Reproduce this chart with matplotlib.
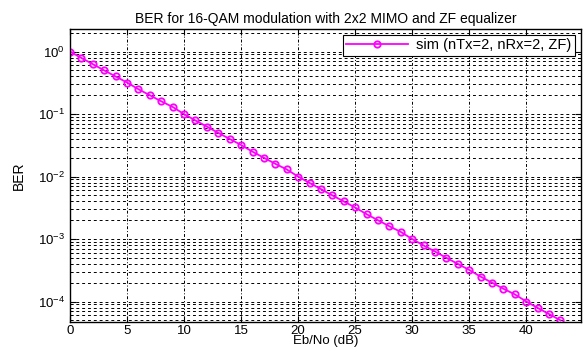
import matplotlib
matplotlib.use("Agg")
import matplotlib.pyplot as plt
from matplotlib.ticker import LogLocator, NullFormatter
import numpy as np

plt.rcParams['font.family'] = ['Liberation Sans', 'DejaVu Sans']

# Eb/No values (dB) and simulated BER
eb_no_db = list(range(0, 44))
ber_sim = [1.0, 0.79, 0.63, 0.50, 0.40, 0.32, 0.25, 0.20, 0.16, 0.13,
           0.10, 0.079, 0.063, 0.050, 0.040, 0.032, 0.025, 0.020, 0.016, 0.013,
           1.0e-2, 7.9e-3, 6.3e-3, 5.0e-3, 4.0e-3, 3.2e-3, 2.5e-3, 2.0e-3, 1.6e-3, 1.3e-3,
           1.0e-3, 7.9e-4, 6.3e-4, 5.0e-4, 4.0e-4, 3.2e-4, 2.5e-4, 2.0e-4, 1.6e-4, 1.3e-4,
           1.0e-4, 7.9e-5, 6.3e-5, 5.0e-5]
x_ticks = [0, 5, 10, 15, 20, 25, 30, 35, 40]
legend_label = 'sim (nTx=2, nRx=2, ZF)'

fig = plt.figure(figsize=(5.84, 3.52), dpi=100)
ax = fig.add_axes([0.1199, 0.0852, 0.875, 0.8324])

ax.semilogy(eb_no_db, ber_sim, '-o', color='#ff00ff', lw=1.3, ms=4.6,
            mfc='none', mew=1.3, label=legend_label)

ax.set_xlim(0, 44.8)
ax.set_ylim(4.7e-5, 2.3)
ax.set_xticks(x_ticks)
ax.yaxis.set_major_locator(LogLocator(base=10, numticks=10))
ax.yaxis.set_minor_locator(LogLocator(base=10, subs=np.arange(2, 10), numticks=20))
ax.yaxis.set_minor_formatter(NullFormatter())

# matlab style grid
ax.grid(True, which='major', axis='x', color='black', ls=(0, (3, 2, 1, 2)), lw=0.7)
ax.grid(True, which='both', axis='y', color='black', ls=(0, (3, 3)), lw=0.7)
ax.set_axisbelow(True)

ax.tick_params(which='both', direction='in', top=True, right=True, labelsize=9.5)
ax.tick_params(axis='x', pad=2)
ax.tick_params(which='major', length=4)
ax.tick_params(which='minor', length=2)
for s in ax.spines.values():
    s.set_linewidth(1.0)

ax.set_title("BER for 16-QAM modulation with 2x2 MIMO and ZF equalizer", fontsize=10, pad=4)
ax.set_xlabel("Eb/No (dB)", fontsize=9.5, labelpad=-1)
ax.set_ylabel("BER", fontsize=10, labelpad=9)

leg = ax.legend(loc='upper right', fontsize=10.5, fancybox=False, framealpha=1,
                edgecolor='black', borderpad=0.25, handlelength=4.2, borderaxespad=0.4,
                handletextpad=0.6)
leg.get_frame().set_linewidth(0.8)

fig.savefig("out.png", dpi=100)
